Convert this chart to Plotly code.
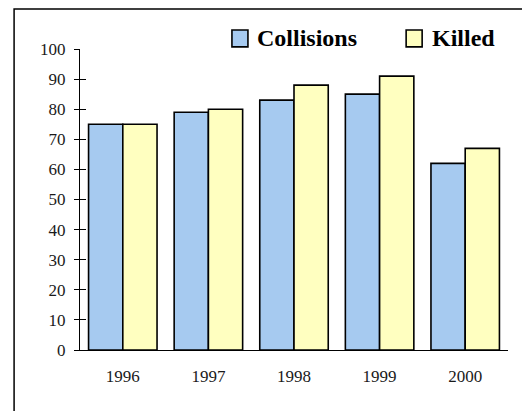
import plotly.graph_objects as go

years = ["1996", "1997", "1998", "1999", "2000"]
collisions = [75, 79, 83, 85, 62]
killed = [75, 80, 88, 91, 67]
y_ticks = [0, 10, 20, 30, 40, 50, 60, 70, 80, 90, 100]

BLUE = "#A6CAF0"
YELLOW = "#FFFFC0"
SERIF = "Liberation Serif, Times New Roman, serif"

fig = go.Figure()
fig.add_trace(go.Bar(x=years, y=collisions, name="Collisions",
                     marker=dict(color=BLUE, line=dict(color="black", width=1.6))))
fig.add_trace(go.Bar(x=years, y=killed, name="Killed",
                     marker=dict(color=YELLOW, line=dict(color="black", width=1.6))))

# overlay axis for the inside half of the crossing ticks
fig.add_trace(go.Scatter(x=[None], y=[None], yaxis="y2"))

# legend drawn by hand: swatch + bold label
legend_items = [("Collisions", BLUE, 0.355, 0.409), ("Killed", YELLOW, 0.762, 0.818)]
shapes = [dict(type="rect", xref="paper", yref="paper",
               x0=-0.154, x1=1.2, y0=-0.5, y1=1.133,
               line=dict(color="black", width=1.5), layer="below")]
annotations = []
for name, col, sx, tx in legend_items:
    shapes.append(dict(type="rect", xref="paper", yref="paper",
                       x0=sx, x1=sx + 0.0374, y0=1.007, y1=1.063,
                       fillcolor=col, line=dict(color="black", width=1.6)))
    annotations.append(dict(text=name, xref="paper", yref="paper", x=tx, y=1.035,
                            xanchor="left", yanchor="middle", showarrow=False,
                            font=dict(family=SERIF, size=24, color="black", weight="bold")))

fig.update_layout(
    width=530, height=411,
    margin=dict(l=72, r=30, t=41, b=69),
    paper_bgcolor="white", plot_bgcolor="white",
    font=dict(family=SERIF, size=17, color="#1a1a1a"),
    barmode="group", bargap=0.2, bargroupgap=0,
    showlegend=False,
    xaxis=dict(showline=True, linecolor="black", linewidth=1.2, ticks="",
               showgrid=False, tickfont=dict(size=17), ticklabelstandoff=10),
    yaxis=dict(range=[0, 100], tickvals=y_ticks, showline=True, linecolor="black",
               linewidth=1.2, ticks="outside", ticklen=5, tickcolor="black",
               showgrid=False, zeroline=False, tickfont=dict(size=17),
               ticklabelstandoff=5),
    yaxis2=dict(range=[0, 100], tickvals=y_ticks, overlaying="y", side="left",
                ticks="inside", ticklen=6, tickcolor="black", showticklabels=False,
                showgrid=False, zeroline=False, showline=False),
    shapes=shapes,
    annotations=annotations,
)

fig.write_html("out.html")
